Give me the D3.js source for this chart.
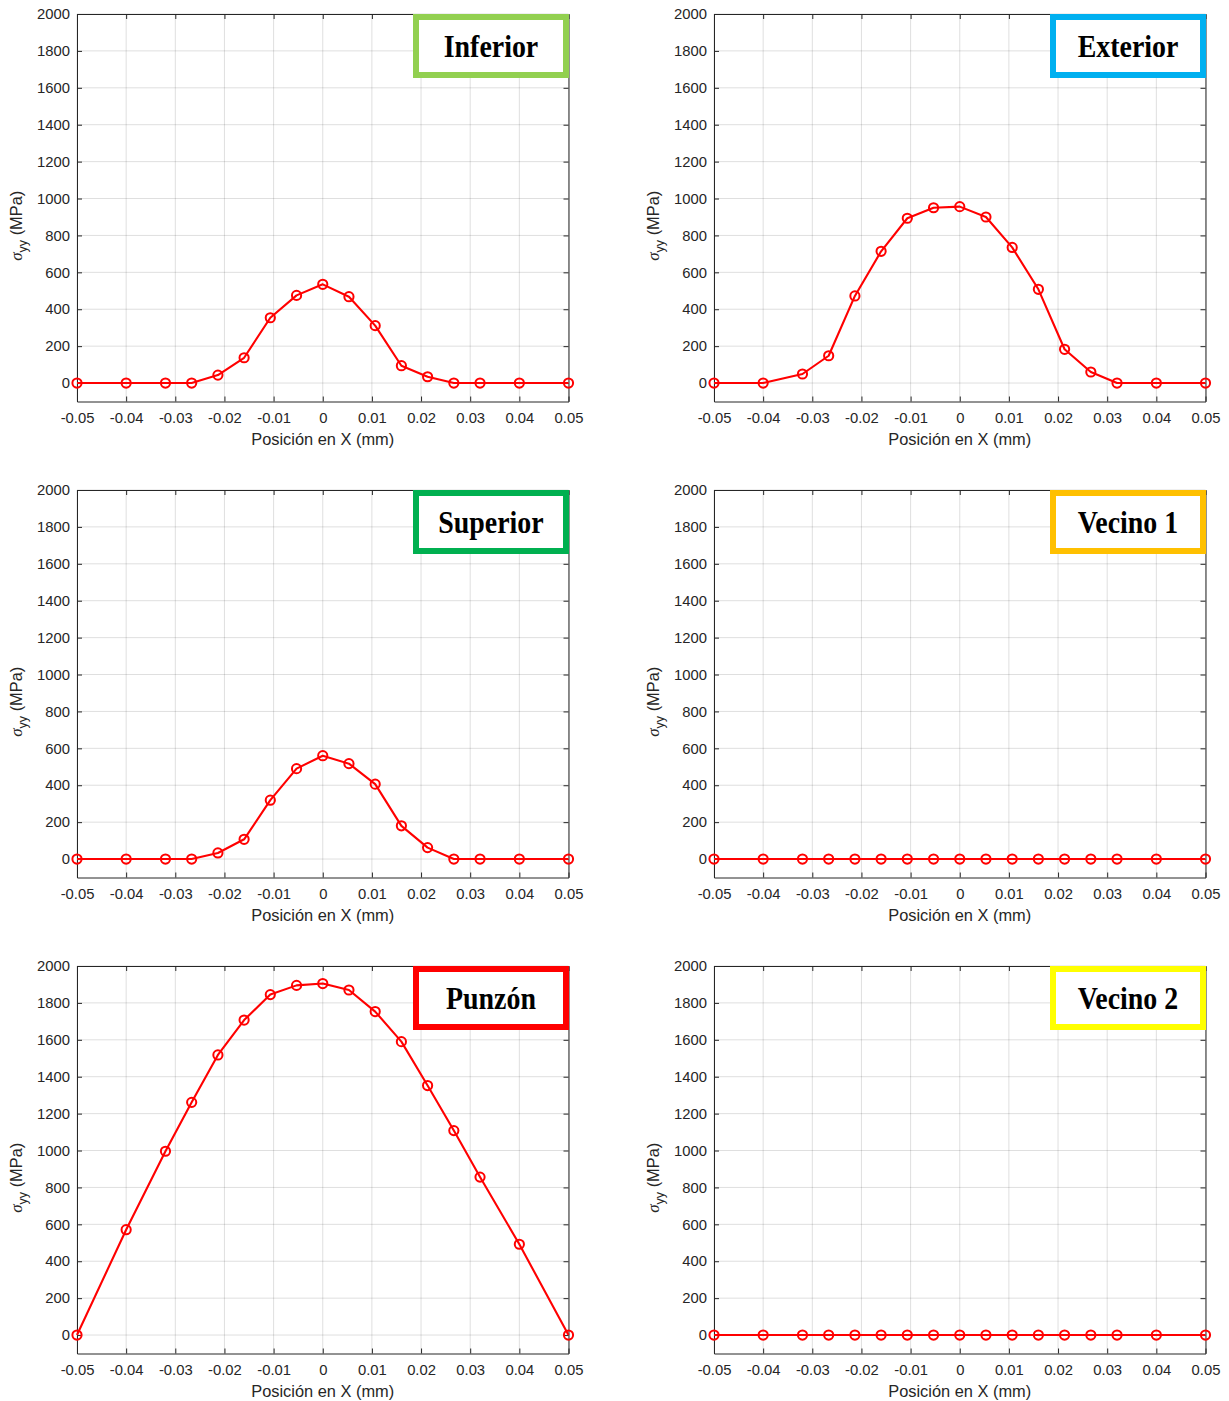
<!DOCTYPE html>
<html>
<head>
<meta charset="utf-8">
<script src="https://cdn.jsdelivr.net/npm/d3@7"></script>
<style>
  html, body { margin: 0; padding: 0; background: #ffffff; }
  svg { display: block; }
</style>
</head>
<body>
<script>
// Node positions along X (mm) shared by every panel
const xPos = [-0.05, -0.04, -0.032, -0.02667, -0.02133, -0.016, -0.01067, -0.00533, 0,
              0.00533, 0.01067, 0.016, 0.02133, 0.02667, 0.032, 0.04, 0.05];

// sigma_yy (MPa) per contact zone
const inferior = [0, 0, 0, 0, 43, 137, 354, 475, 535, 468, 311, 94, 34, 0, 0, 0, 0];
const exterior = [0, 0, 49, 148, 472, 714, 893, 950, 956, 900, 735, 508, 183, 60, 0, 0, 0];
const superior = [0, 0, 0, 0, 33, 107, 319, 490, 560, 517, 406, 180, 62, 0, 0, 0, 0];
const vecino1  = [0, 0, 0, 0, 0, 0, 0, 0, 0, 0, 0, 0, 0, 0, 0, 0, 0];
const punzon   = [0, 571, 996, 1261, 1518, 1707, 1845, 1895, 1905, 1870, 1753, 1590, 1352, 1108, 856, 492, 0];
const vecino2  = [0, 0, 0, 0, 0, 0, 0, 0, 0, 0, 0, 0, 0, 0, 0, 0, 0];

// Panel titles and their frame colours
const titles = ["Inferior", "Exterior", "Superior", "Vecino 1", "Punzón", "Vecino 2"];
const frameColors = ["#92D050", "#00B0F0", "#00B050", "#FFC000", "#FF0000", "#FFFF00"];
const seriesList = [inferior, exterior, superior, vecino1, punzon, vecino2];

// Axis ticks
const xTicks = [-0.05, -0.04, -0.03, -0.02, -0.01, 0, 0.01, 0.02, 0.03, 0.04, 0.05];
const yTicks = [0, 200, 400, 600, 800, 1000, 1200, 1400, 1600, 1800, 2000];

const W = 1229, H = 1401;
const colLeft = [77, 714];
const rowTop = [14, 490, 966];
const plotW = 491.5, plotH = 387.5;
const axisColor = "#262626";
const sansFont = "'Liberation Sans', Arial, Helvetica, sans-serif";

const svg = d3.select("body").append("svg")
  .attr("width", W).attr("height", H)
  .attr("viewBox", `0 0 ${W} ${H}`);

const fmtX = v => (Math.abs(v) < 1e-9 ? "0" : String(+v.toFixed(2)));
const fmtY = v => String(v);

seriesList.forEach((vals, i) => {
  const col = i % 2, row = Math.floor(i / 2);
  const g = svg.append("g")
    .attr("transform", `translate(${colLeft[col]},${rowTop[row]})`);

  const x = d3.scaleLinear().domain([-0.05, 0.05]).range([0, plotW]);
  const y = d3.scaleLinear().domain([-100, 2000]).range([plotH, 0]);

  // grid
  const grid = g.append("g").attr("stroke", axisColor).attr("stroke-opacity", 0.15).attr("stroke-width", 1);
  grid.selectAll("line.gx").data(xTicks).join("line")
    .attr("class", "gx")
    .attr("x1", d => x(d)).attr("x2", d => x(d))
    .attr("y1", 0).attr("y2", plotH);
  grid.selectAll("line.gy").data(yTicks).join("line")
    .attr("class", "gy")
    .attr("x1", 0).attr("x2", plotW)
    .attr("y1", d => y(d)).attr("y2", d => y(d));

  // axes with inward ticks on all four sides
  const tickLen = 5;
  const axB = g.append("g").attr("transform", `translate(0,${plotH})`)
    .call(d3.axisBottom(x).tickValues(xTicks).tickFormat(fmtX).tickSizeInner(-tickLen).tickSizeOuter(0).tickPadding(11));
  const axT = g.append("g")
    .call(d3.axisTop(x).tickValues(xTicks).tickFormat("").tickSizeInner(-tickLen).tickSizeOuter(0));
  const axL = g.append("g")
    .call(d3.axisLeft(y).tickValues(yTicks).tickFormat(fmtY).tickSizeInner(-tickLen).tickSizeOuter(0).tickPadding(7));
  const axR = g.append("g").attr("transform", `translate(${plotW},0)`)
    .call(d3.axisRight(y).tickValues(yTicks).tickFormat("").tickSizeInner(-tickLen).tickSizeOuter(0));

  [axB, axT, axL, axR].forEach(a => {
    a.selectAll(".domain").attr("stroke", axisColor).attr("stroke-width", 1);
    a.selectAll(".tick line").attr("stroke", axisColor).attr("stroke-width", 1);
    a.selectAll("text").attr("fill", axisColor)
      .style("font-family", sansFont).style("font-size", "14.8px");
  });

  // series line and circle markers
  const pts = xPos.map((xv, k) => [xv, vals[k]]);
  const line = d3.line().x(d => x(d[0])).y(d => y(d[1]));
  g.append("path").datum(pts)
    .attr("d", line)
    .attr("fill", "none").attr("stroke", "#FF0000").attr("stroke-width", 2.1)
    .attr("stroke-linejoin", "round");
  g.selectAll("circle.mk").data(pts).join("circle")
    .attr("class", "mk")
    .attr("cx", d => x(d[0])).attr("cy", d => y(d[1]))
    .attr("r", 4.6)
    .attr("fill", "none").attr("stroke", "#FF0000").attr("stroke-width", 2);

  // x-axis title
  g.append("text")
    .attr("x", plotW / 2).attr("y", plotH + 43.5)
    .attr("text-anchor", "middle")
    .attr("fill", axisColor)
    .style("font-family", sansFont).style("font-size", "16.4px")
    .text("Posición en X (mm)");

  // y-axis title: sigma_yy (MPa)
  const yl = g.append("text")
    .attr("transform", `translate(${-55},${plotH / 2 + 18}) rotate(-90)`)
    .attr("text-anchor", "middle")
    .attr("fill", axisColor)
    .style("font-family", sansFont).style("font-size", "16.4px");
  yl.append("tspan")
    .style("font-family", "'Liberation Serif', 'Times New Roman', serif")
    .style("font-style", "italic").style("font-size", "17px")
    .text("σ");
  yl.append("tspan").attr("dy", 5).style("font-size", "12.5px").text("yy");
  yl.append("tspan").attr("dy", -5).text("\u00A0(MPa)");

  // zone label box in the upper-right corner
  const bw = 156, bh = 64, bs = 6;
  const lb = g.append("g").attr("transform", `translate(${plotW - bw + 0.5},0)`);
  lb.append("rect")
    .attr("x", bs / 2).attr("y", bs / 2)
    .attr("width", bw - bs).attr("height", bh - bs)
    .attr("fill", "#ffffff").attr("stroke", frameColors[i]).attr("stroke-width", bs);
  lb.append("text")
    .attr("transform", `translate(${bw / 2},${43}) scale(0.9,1)`)
    .attr("text-anchor", "middle")
    .attr("fill", "#000000")
    .style("font-family", "'Liberation Serif', 'Times New Roman', serif")
    .style("font-weight", "bold").style("font-size", "31px")
    .text(titles[i]);
});
</script>
</body>
</html>
